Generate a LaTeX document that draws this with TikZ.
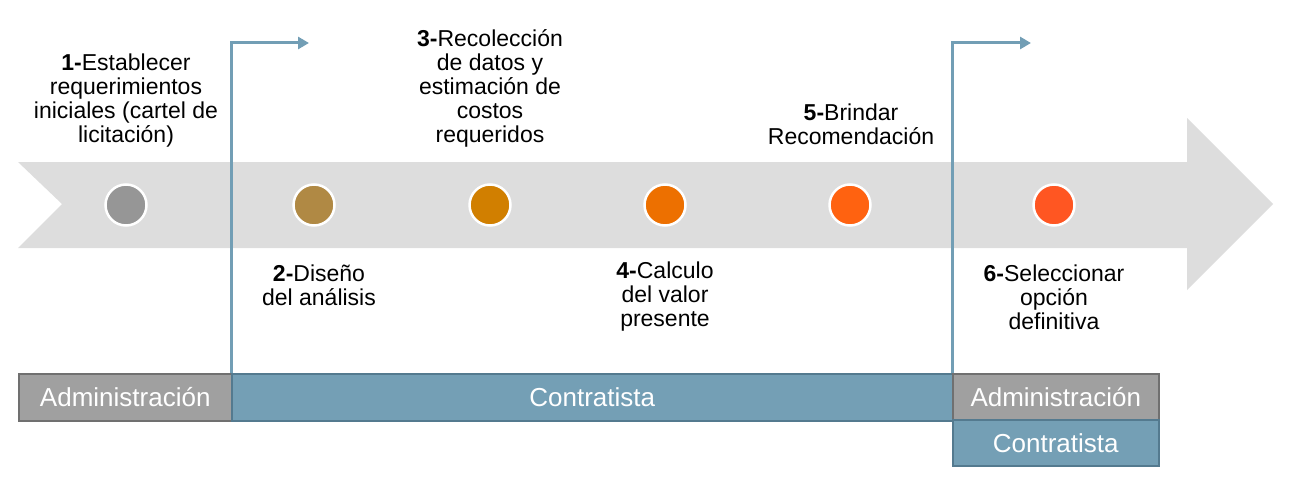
\documentclass[tikz,border=0pt]{standalone}
\usepackage{fontspec}
\setmainfont{Liberation Sans}
\usetikzlibrary{arrows.meta}
\definecolor{arrowgray}{RGB}{221,221,221}
\definecolor{flowblue}{RGB}{114,158,181}
\definecolor{boxblue}{RGB}{116,159,181}
\definecolor{boxblueline}{RGB}{84,122,143}
\definecolor{boxgray}{RGB}{160,160,160}
\definecolor{boxgrayline}{RGB}{112,112,112}
\definecolor{cA}{RGB}{150,150,150}
\definecolor{cB}{RGB}{176,137,68}
\definecolor{cC}{RGB}{209,127,0}
\definecolor{cD}{RGB}{237,112,0}
\definecolor{cE}{RGB}{255,98,16}
\definecolor{cF}{RGB}{255,86,34}
\tikzset{
  x=1pt, y=-1pt,
  dot/.style={circle, draw=white, line width=2.5pt, minimum size=41pt, inner sep=0pt},
  lbl/.style={align=center, font=\fontsize{23}{24}\selectfont, inner sep=0pt, text=black},
  flow/.style={draw=flowblue, line width=3pt, -{Triangle[length=11pt,width=12pt]}},
  bar/.style={line width=1.5pt, text=white, font=\fontsize{26}{28}\selectfont, inner sep=0pt},
}
\begin{document}
\begin{tikzpicture}
\useasboundingbox (0,0) rectangle (1289,487);
% big arrow
\fill[arrowgray] (18,162) -- (1187,162) -- (1187,118) -- (1273,204) -- (1187,290)
  -- (1187,248) -- (18,248) -- (62,204) -- cycle;
% dots
\node[dot, fill=cA] (d1) at (126,205) {};
\node[dot, fill=cB] (d2) at (314,205) {};
\node[dot, fill=cC] (d3) at (490,205) {};
\node[dot, fill=cD] (d4) at (665,205) {};
\node[dot, fill=cE] (d5) at (850,205) {};
\node[dot, fill=cF] (d6) at (1054,205) {};
% labels
\node[lbl, anchor=center] (t1) at (126,101) {\textbf{1-}Establecer\\requerimientos\\iniciales (cartel de\\licitación)};
\node[lbl, anchor=center] (t3) at (490,88) {\textbf{3-}Recolección\\de datos y\\estimación de\\costos\\requeridos};
\node[lbl, anchor=center] (t5) at (851,124) {\textbf{5-}Brindar\\Recomendación};
\node[lbl, anchor=center] (t2) at (319,285) {\textbf{2-}Diseño\\del análisis};
\node[lbl, anchor=center] (t4) at (665,297) {\textbf{4-}Calculo\\del valor\\presente};
\node[lbl, anchor=center] (t6) at (1054,297) {\textbf{6-}Seleccionar\\opción\\definitiva};
% bottom bars
\node[bar, draw=boxgrayline, fill=boxgray, minimum width=213pt, minimum height=47pt, anchor=north west] (b1) at (18,373) {Administración};
\node[bar, draw=boxblueline, fill=boxblue, minimum width=721pt, minimum height=47pt, anchor=north west] (b2) at (231,373) {Contratista};
\node[bar, draw=boxgrayline, fill=boxgray, minimum width=206pt, minimum height=46pt, anchor=north west] (b3) at (952,373) {Administración};
\node[bar, draw=boxblueline, fill=boxblue, minimum width=206pt, minimum height=46pt, anchor=north west] (b4) at (952,419) {Contratista};
% flow arrows
\coordinate (e1) at (309,43);
\coordinate (e2) at (1031,43);
\draw[flow] (b2.north west) |- (e1);
\draw[flow] (b3.north west) |- (e2);
\end{tikzpicture}
\end{document}
